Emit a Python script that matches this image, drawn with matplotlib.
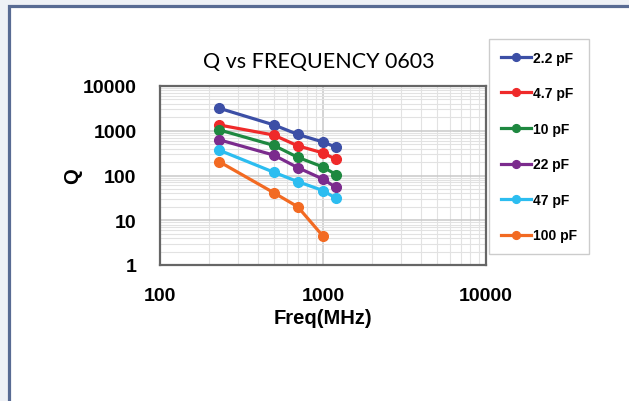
import numpy as np
import matplotlib
matplotlib.use('Agg')
import matplotlib.pyplot as plt
from matplotlib.patches import Rectangle

#%% data
freq = [230, 500, 700, 1000, 1200]

caps = ['2.2 pF', '4.7 pF', '10 pF', '22 pF', '47 pF', '100 pF']
q_22 = [3200, 1350, 830, 560, 430]
q_47 = [1350, 800, 460, 320, 230]
q_10 = [1050, 470, 255, 155, 105]
q_220 = [630, 285, 150, 83, 54]
q_470 = [370, 118, 73, 46, 31]
q_100 = [205, 41, 20, 4.4]

series = [q_22, q_47, q_10, q_220, q_470, q_100]
colors = ['#3c4fa6', '#ef2a2a', '#1e8840', '#7b2b8d', '#2cbdf0', '#f26a22']

#%% figure
W, H = 629, 402
fig = plt.figure(figsize=(W / 100, H / 100), dpi=100, facecolor='#eef1f6')

# page border
fig.patches.append(Rectangle((8.5 / W, -0.05), 1.1, (H - 6.5) / H + 0.05,
                             transform=fig.transFigure, facecolor='white',
                             edgecolor='#586b93', linewidth=2.3, zorder=-1))

ax = fig.add_axes([160 / W, 1 - 266 / H, 326 / W, 179 / H])

for vals, lab, c in zip(series, caps, colors):
    ax.plot(freq[:len(vals)], vals, '-o', color=c, lw=2.3, ms=7, label=lab)

ax.set_xscale('log')
ax.set_yscale('log')
ax.set_xlim(100, 10000)
ax.set_ylim(1, 10000)
ax.set_xticks([100, 1000, 10000])
ax.set_xticklabels(['100', '1000', '10000'])
ax.set_yticks([1, 10, 100, 1000, 10000])
ax.set_yticklabels(['1', '10', '100', '1000', '10000'])

ax.grid(which='major', color='#c9c9c9', lw=1.1)
ax.grid(which='minor', color='#e2e2e2', lw=0.8)
ax.set_axisbelow(True)
for sp in ax.spines.values():
    sp.set_color('#666666')
    sp.set_linewidth(1.6)

for t in ax.get_xticklabels() + ax.get_yticklabels():
    t.set_fontproperties('Liberation Sans')
    t.set_fontweight('bold')
    t.set_fontsize(14)
ax.tick_params(which='both', length=0)
ax.tick_params(axis='x', pad=16)
ax.tick_params(axis='y', pad=17)

ax.set_xlabel('Freq(MHz)', fontdict=dict(family='Liberation Sans', weight='bold', size=14.5), labelpad=3)
ax.set_ylabel('Q', fontdict=dict(family='Liberation Sans', weight='bold', size=14.5), labelpad=0)

fig.text(319 / W, 1 - 62 / H, 'Q vs FREQUENCY 0603', ha='center', va='center',
         family='Lato', fontsize=15.5, color='black')

leg = ax.legend(loc='upper left', bbox_to_anchor=(489 / W, 1 - 40 / H),
                bbox_transform=fig.transFigure, borderaxespad=0,
                prop=dict(family='Liberation Sans', weight='bold', size=10),
                labelspacing=1.55, handlelength=2.2, handletextpad=0.1,
                borderpad=0.85, fancybox=False, framealpha=1, markerscale=0.8)
leg.get_frame().set_edgecolor('#cccccc')
leg.get_frame().set_linewidth(1.0)

fig.savefig('out.png', dpi=100, facecolor=fig.get_facecolor())
